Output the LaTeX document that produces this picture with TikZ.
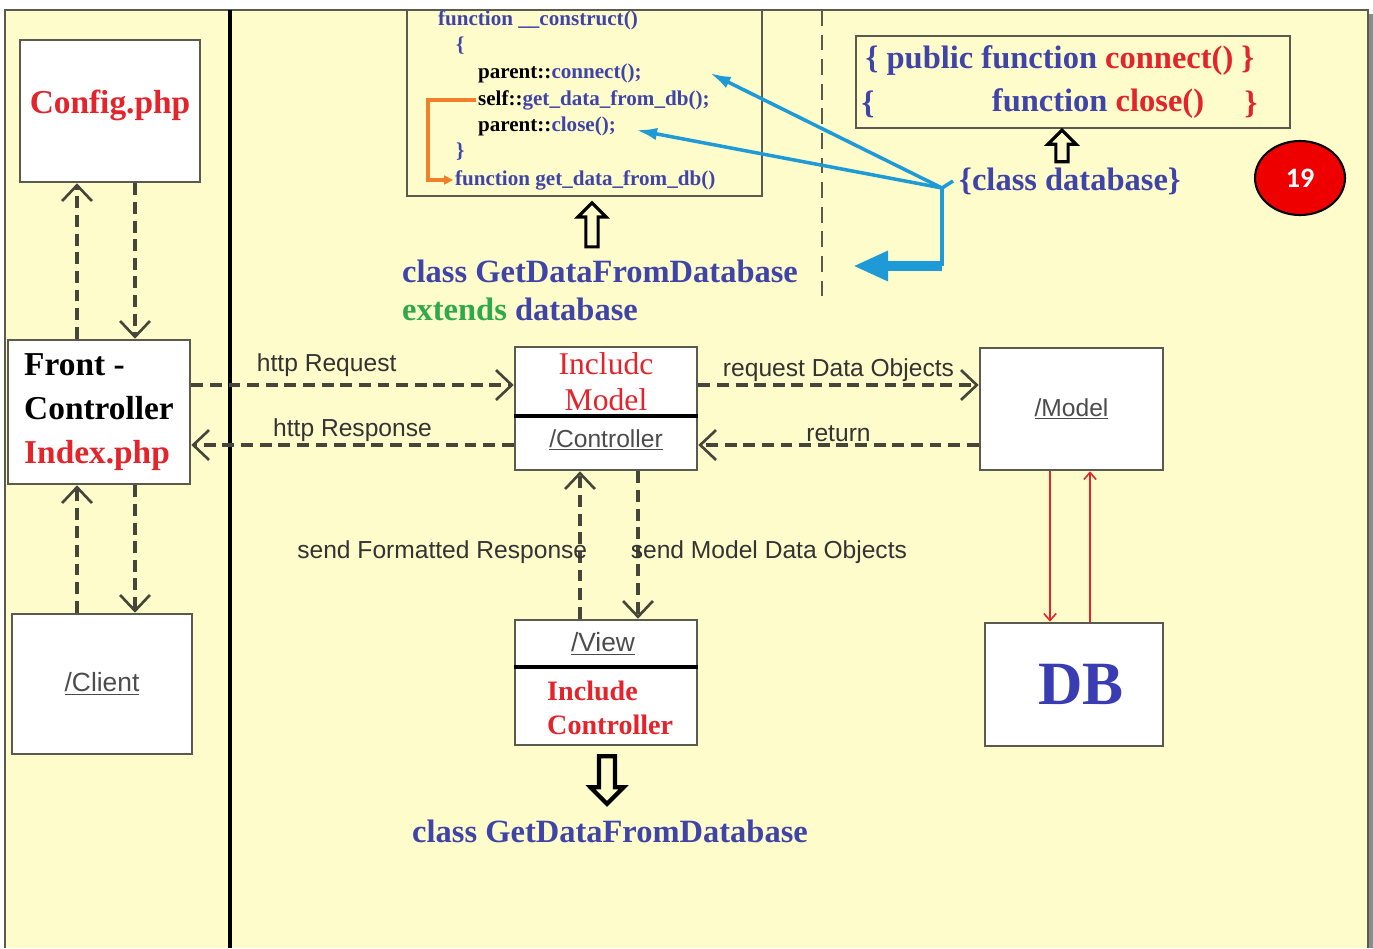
\documentclass[tikz,border=0pt]{standalone}
\usepackage{fontspec}
\setmainfont{Liberation Serif}
\setsansfont{Liberation Sans}
\newfontfamily\badgefont{Carlito}
\usepackage{tikz}
\usetikzlibrary{arrows.meta, positioning, calc, shapes.geometric, shapes.arrows}

\definecolor{paper}{HTML}{FFFCCB}
\definecolor{codeblue}{HTML}{3F44A8}
\definecolor{codered}{HTML}{E3242B}
\definecolor{codegreen}{HTML}{2FAA4A}
\definecolor{linkcyan}{HTML}{1E9BD7}
\definecolor{flowgray}{HTML}{45453A}
\definecolor{boxgray}{HTML}{5A5A50}
\definecolor{callorange}{HTML}{F07F2A}
\definecolor{badgered}{HTML}{EE0000}

\tikzset{
  unitbox/.style={draw=boxgray, line width=1.5pt, fill=white},
  bigserif/.style={font=\fontsize{19}{25}\selectfont\bfseries},
  umlname/.style={font=\sffamily\fontsize{14}{16}\selectfont, text=black!70},
  flowlabel/.style={font=\sffamily\fontsize{14}{16}\selectfont, text=black!80, inner sep=1pt},
  flow/.style={draw=flowgray, line width=1.8pt, dash pattern=on 6.8pt off 3.8pt,
    -{Straight Barb[length=9pt,width=17pt,line width=1.5pt]}},
  dbline/.style={draw=codered, line width=0.9pt, -{Straight Barb[length=4pt,width=7pt]}},
  codeline/.style={anchor=west, inner sep=1pt, font=\fontsize{12}{14}\selectfont\bfseries},
  titletext/.style={font=\fontsize{18.5}{22}\selectfont\bfseries, text=codeblue},
  hollowarrow/.style={single arrow, draw=black, fill=paper, line width=1.8pt, inner sep=2.6pt,
    single arrow head extend=4.5pt, rotate=90},
  cyanline/.style={draw=linkcyan, line width=2pt}
}

\begin{document}
\begin{tikzpicture}[x=0.02cm, y=-0.02cm, >=Stealth]
\useasboundingbox (0,0) rectangle (1373,948);
% sheet
\fill[white] (0,0) rectangle (1373,948);
\fill[paper] (5,10) rectangle (1368,948);
\fill[black!45] (1368,14) rectangle (1373,948);
\draw[boxgray, line width=0.8pt] (5,948) -- (5,10) -- (1368,10) -- (1368,948);
\draw[line width=2.4pt] (230,10) -- (230,948);

% left column
\node[unitbox, minimum width=3.6cm, minimum height=2.84cm] (config) at (110,111) {};
\node[bigserif, text=codered] (configname) at (110,105) {Config.php};
\node[unitbox, bigserif, align=left, minimum width=3.64cm, minimum height=2.88cm] (front) at (99,412)
  {Front -\\Controller\\\textcolor{codered}{Index.php}};
\node[unitbox, umlname, font=\sffamily\fontsize{15}{17}\selectfont, minimum width=3.6cm, minimum height=2.8cm] (client) at (102,684) {\underline{/Client}};

\coordinate (laneL) at (77,0);
\coordinate (laneR) at (135,0);
\draw[flow] (config.south -| laneR) -- (front.north -| laneR);
\draw[flow] (front.north -| laneL) -- (config.south -| laneL);
\draw[flow] (front.south -| laneR) -- (client.north -| laneR);
\draw[flow] (client.north -| laneL) -- (front.south -| laneL);

% controller, model, view, db
\node[unitbox, minimum width=3.64cm, minimum height=2.46cm] (ctrl) at (606,408.5) {};
\coordinate (ctrlcut) at (0,416);
\draw[line width=2.2pt] (ctrl.west |- ctrlcut) -- (ctrl.east |- ctrlcut);
\node[align=center, text=codered, font=\fontsize{18}{20.5}\selectfont] (ctrlinc) at (606,382) {Includc\\Model};
\node[umlname] (ctrlname) at (606,440) {\underline{/Controller}};

\node[unitbox, umlname, minimum width=3.66cm, minimum height=2.44cm] (model) at (1071.5,409) {\underline{/Model}};

\node[unitbox, minimum width=3.64cm, minimum height=2.5cm] (view) at (606,682.5) {};
\coordinate (viewcut) at (0,667);
\draw[line width=2.6pt] (view.west |- viewcut) -- (view.east |- viewcut);
\node[umlname, font=\sffamily\fontsize{15}{17}\selectfont] (viewname) at (603,644) {\underline{/View}};
\node[align=left, text=codered, font=\fontsize{16}{19}\selectfont\bfseries, anchor=west] (viewinc) at (541,708) {Include\\Controller};

\node[unitbox, text=codeblue!90!blue, font=\fontsize{35}{36}\selectfont\bfseries, minimum width=3.56cm, minimum height=2.46cm, text depth=0pt] (db) at (1074,684.5) {\hspace*{8pt}DB};

\coordinate (reqy) at (0,385);
\coordinate (resy) at (0,445);
\draw[flow] (front.east |- reqy) -- (ctrl.west |- reqy) node[pos=0.42, above, flowlabel, yshift=3pt] {http Request};
\draw[flow] (ctrl.west |- resy) -- (front.east |- resy) node[midway, above, flowlabel] {http Response};
\draw[flow] (ctrl.east |- reqy) -- (model.west |- reqy) node[midway, above, flowlabel] {request Data Objects};
\draw[flow] (model.west |- resy) -- (ctrl.east |- resy) node[midway, above, flowlabel] {return};

\coordinate (fmtx) at (580,0);
\coordinate (mdlx) at (638,0);
\draw[flow] (view.north -| fmtx) -- (ctrl.south -| fmtx) node[midway, left, flowlabel, xshift=6pt, yshift=-4pt] {send Formatted Response};
\draw[flow] (ctrl.south -| mdlx) -- (view.north -| mdlx) node[midway, right, flowlabel, xshift=-6pt, yshift=-4pt] {send Model Data Objects};

\coordinate (dbdn) at (1050,0);
\coordinate (dbupx) at (1090,0);
\draw[dbline] (model.south -| dbdn) -- (db.north -| dbdn);
\draw[dbline] (db.north -| dbupx) -- (model.south -| dbupx);

\node[hollowarrow, rotate=180, minimum height=27pt, line width=2.4pt, inner sep=3.4pt, single arrow head extend=4.8pt] (viewdown) at (607,776) {};
\node[titletext] (gdbottom) at (610,831) {class GetDataFromDatabase};

% code box
\node[draw=boxgray, line width=0.8pt, minimum width=7.1cm, minimum height=3.72cm] (codebox) at (584.5,103) {};
\node[codeline, text=codeblue] (ln1) at (436,20) {function \_\_construct()};
\node[codeline, text=codeblue] (ln2) at (454,46) {\{};
\node[codeline] (ln3) at (476,73) {parent::\textcolor{codeblue}{connect();}};
\node[codeline] (ln4) at (476,100) {self::\textcolor{codeblue}{get\_data\_from\_db();}};
\node[codeline] (ln5) at (476,126) {parent::\textcolor{codeblue}{close();}};
\node[codeline, text=codeblue] (ln6) at (454,152) {\}};
\node[codeline, text=codeblue] (ln7) at (453,180) {function get\_data\_from\_db()};
\coordinate (hook) at (428,0);
\draw[callorange, line width=2pt, -{Triangle[length=5pt,width=5pt]}] (ln4.west) -- (ln4.west -| hook) |- (ln7.west);

\node[hollowarrow, minimum height=25pt] (codeup) at (592,228) {};
\node[titletext, anchor=west] (gdclass) at (396,271) {class GetDataFromDatabase};
\node[titletext, anchor=west] (gdextends) at (396,309) {\textcolor{codegreen}{extends} database};

\draw[boxgray, line width=1.3pt, dash pattern=on 9pt off 5pt] (822,10) -- (822,298);

% database class
\node[draw=boxgray, line width=0.8pt, minimum width=8.68cm, minimum height=1.84cm] (dbbox) at (1073,82) {};
\node[titletext] (publine) at (1060,61) {\{ public function \textcolor{codered}{connect() \}}};
\node[titletext] (clsopen) at (868,104) {\{};
\node[titletext] (clsfn) at (1098,104) {function \textcolor{codered}{close()}};
\node[titletext, text=codered] (clsclose) at (1251,104) {\}};
\node[hollowarrow, minimum height=18pt] (dbup) at (1062,149) {};
\node[titletext] (classdb) at (1070,181) {\{class database\}};

\coordinate (hub) at (942,188);
\coordinate (gdtip) at (853,266);
\draw[cyanline] (hub) -- (classdb.west);
\draw[cyanline, -{Latex[length=12pt,width=7pt]}] (hub) -- ($(ln3.east)+(66,0)$);
\draw[cyanline, -{Latex[length=12pt,width=7pt]}] (hub) -- ($(ln5.east)+(18,4)$);
\draw[cyanline] (hub) -- (hub |- gdtip);
\draw[linkcyan, line width=5.5pt, -{Triangle[length=20pt,width=16pt]}] (hub |- gdtip) -- (gdtip);

\node[ellipse, draw=black, line width=1.2pt, fill=badgered, text=white, minimum width=1.8cm, minimum height=1.48cm,
  font=\badgefont\bfseries\fontsize{16}{16}\selectfont] (badge) at (1300,178) {19};
\end{tikzpicture}
\end{document}
